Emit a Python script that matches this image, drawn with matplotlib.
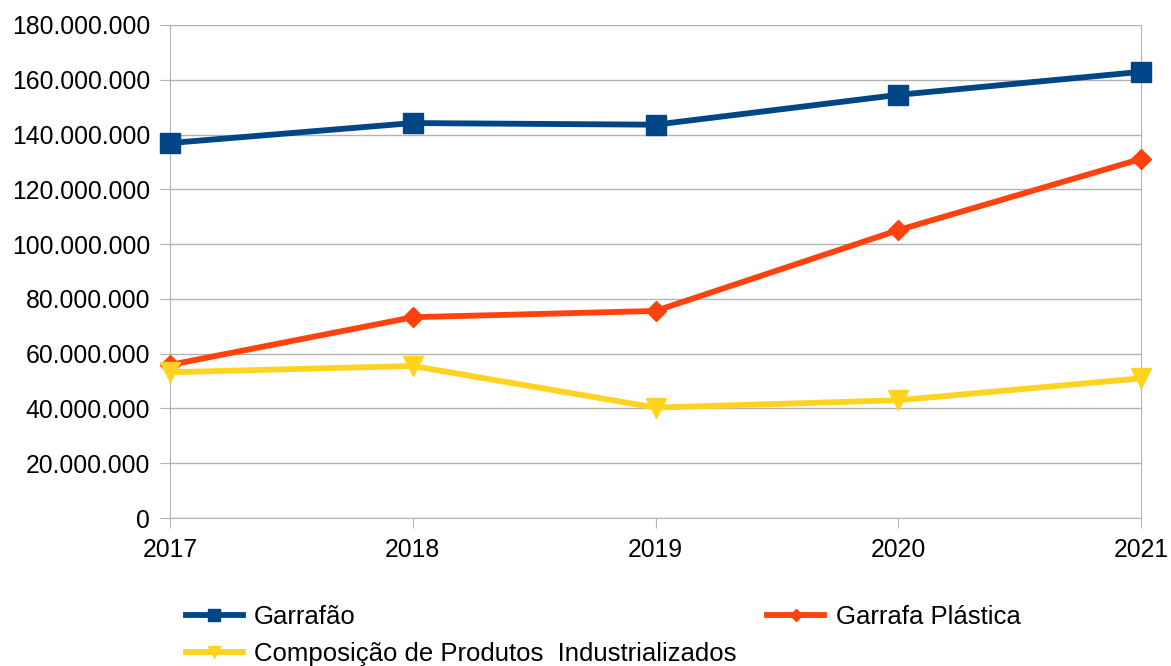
import matplotlib.pyplot as plt
from matplotlib.ticker import FuncFormatter

plt.rcParams['font.family'] = ['Liberation Sans', 'DejaVu Sans']

anos = [2017, 2018, 2019, 2020, 2021]
garrafao = [136900000, 144200000, 143600000, 154500000, 162900000]
garrafa_plastica = [55900000, 73300000, 75600000, 105100000, 131100000]
composicao = [53200000, 55500000, 40300000, 43000000, 51000000]

fig = plt.figure(figsize=(11.71, 6.66), dpi=100)
ax = fig.add_axes([170 / 1171, 1 - 518 / 666, (1141 - 170) / 1171, (518 - 25) / 666])

l1, = ax.plot(anos, garrafao, color='#004586', lw=4.2, marker='s', ms=14,
              label='Garrafão', clip_on=False, zorder=3)
l2, = ax.plot(anos, garrafa_plastica, color='#ff420e', lw=4.2, marker='D', ms=10,
              label='Garrafa Plástica', clip_on=False, zorder=3)
l3, = ax.plot(anos, composicao, color='#ffd320', lw=4.2, marker='v', ms=14,
              label='Composição de Produtos  Industrializados', clip_on=False, zorder=3)

ax.set_xlim(2017, 2021)
ax.set_ylim(0, 180000000)
ax.set_yticks(range(0, 180000001, 20000000))
ax.set_xticks(anos)
ax.yaxis.set_major_formatter(FuncFormatter(lambda v, p: f'{int(v):,}'.replace(',', '.')))

ax.grid(axis='y', color='#b3b3b3', lw=1)
ax.set_axisbelow(True)
ax.spines['top'].set_visible(False)
for s in ['left', 'bottom', 'right']:
    ax.spines[s].set_color('#b3b3b3')
ax.tick_params(colors='#b3b3b3', labelcolor='black', labelsize=17.8, length=7.2)
ax.tick_params(axis='y', pad=7.2)
ax.tick_params(axis='x', pad=7)

fig.legend([l1, l3, l2], [l1.get_label(), l3.get_label(), l2.get_label()],
           loc='upper left', bbox_to_anchor=(186 / 1171, 1 - 605 / 666), ncol=2,
           frameon=False, fontsize=18.5, markerscale=0.6, handlelength=2.2,
           handletextpad=0.45, columnspacing=1.2, labelspacing=0.5,
           borderaxespad=0, borderpad=0)

fig.savefig('out.png', dpi=100)
